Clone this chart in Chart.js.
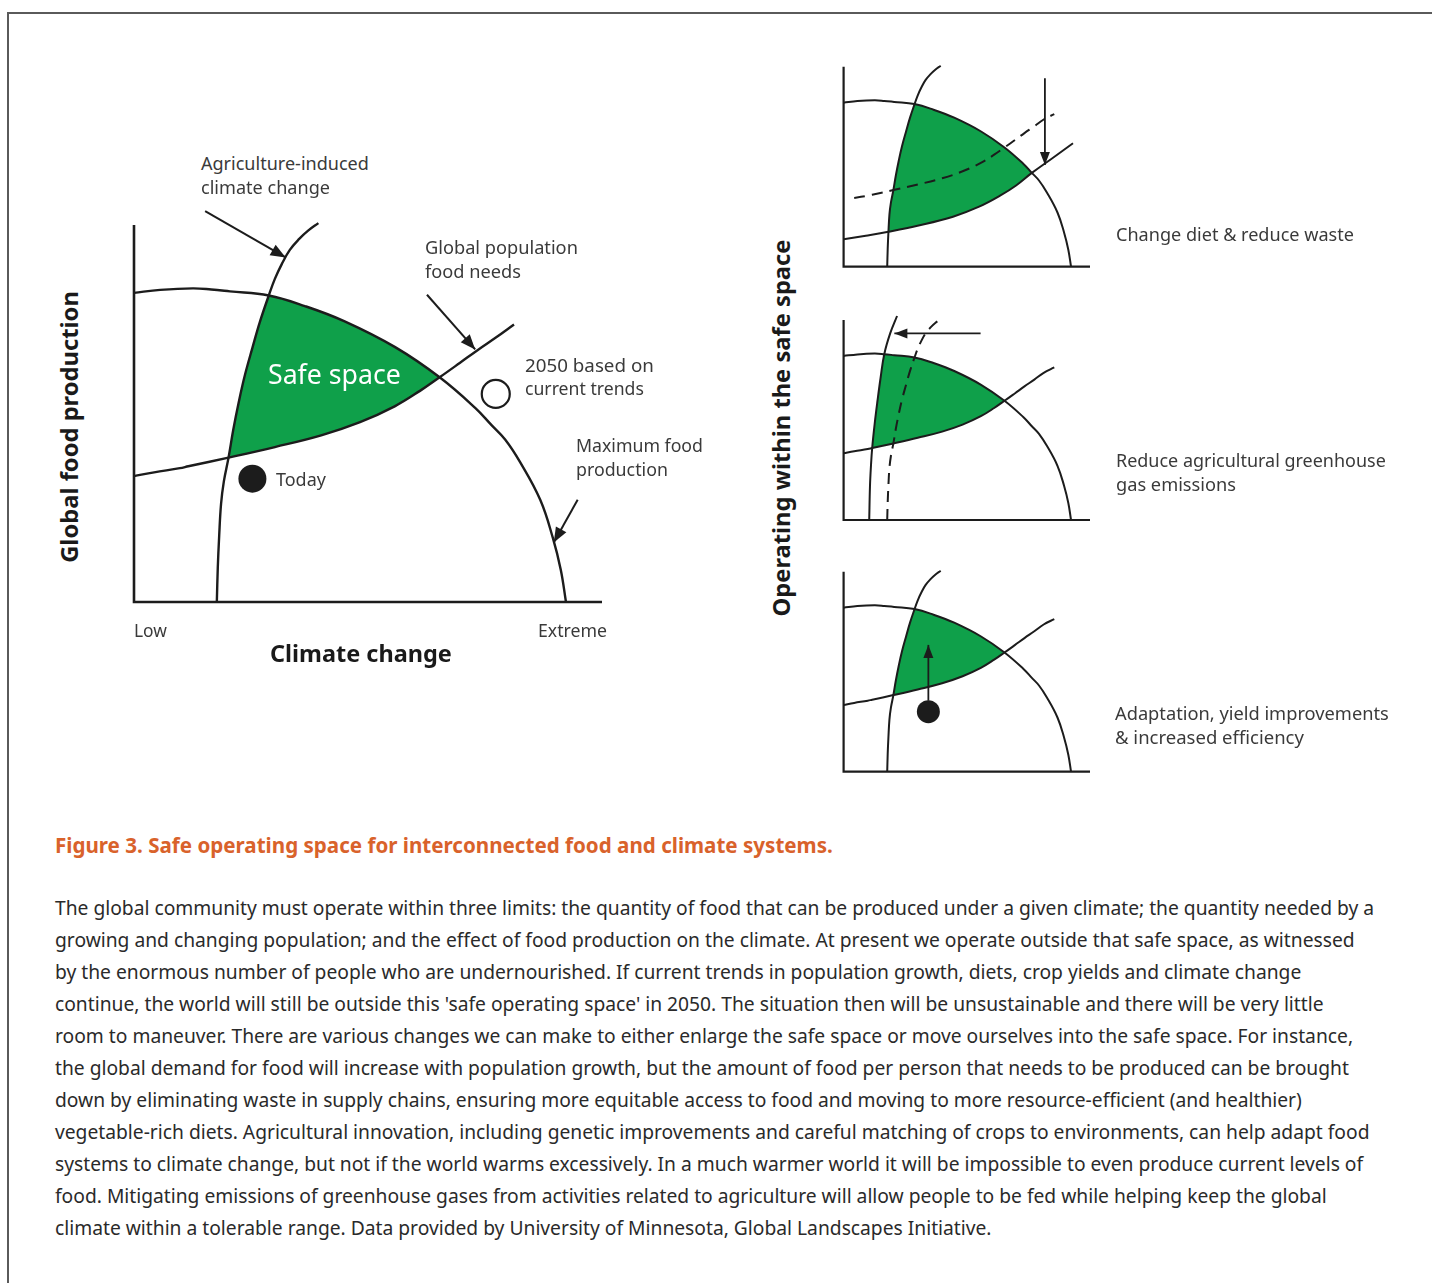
<!DOCTYPE html>
<html>
<head>
<meta charset="utf-8">
<script src="https://cdn.jsdelivr.net/npm/chart.js@4.4.1/dist/chart.umd.min.js"></script>
<style>
  body { margin: 0; background: #fff; font-family: "Noto Sans", sans-serif; }
  #page { position: relative; width: 1432px; height: 1283px; overflow: hidden; }
  #frame { position: absolute; left: 7px; top: 12px; width: 1500px; height: 1400px;
           border-left: 2px solid #5a5a5a; border-top: 2px solid #5a5a5a; }
  canvas { position: absolute; }
  .t { position: absolute; white-space: nowrap; line-height: 1; color: #3a3a3a; }
</style>
</head>
<body>
<div id="page">
  <div id="frame"></div>
  <canvas id="main" width="540" height="440" style="left:100px;top:190px"></canvas>
  <canvas id="diet" width="300" height="250" style="left:820px;top:40px"></canvas>
  <canvas id="emis" width="300" height="250" style="left:820px;top:295px"></canvas>
  <canvas id="adapt" width="300" height="250" style="left:820px;top:545px"></canvas>
</div>
<script>
// conceptual units: x = climate change 0..100, y = food production 0..100

const agriClimate = [[17.7,0],[17.9,9],[18.2,17.5],[18.6,26],[19.2,32],[20.2,38.3],[21.2,45.6],
  [22.4,53.1],[23.7,60.2],[25.3,67.4],[26.9,74.3],[28.8,81.3],[30.1,85.7],[31.6,89.7],
  [33.3,93.4],[35.3,96.3],[37.2,98.5],[39.4,100.5]];

const maxFood = [[0,82.0],[5.6,82.8],[12.6,83.2],[16.5,82.9],[20.5,82.4],[28.8,81.3],[36.5,78.5],
  [44.9,74.5],[55.8,67.6],[65.3,59.6],[72.9,51.5],[76.4,46.9],[79.3,43.1],[82.5,37.1],
  [86.8,27.1],[89.5,17.0],[91.2,8.5],[92.3,0]];

const popNeeds = [[0,33.4],[4.3,34.4],[9.8,35.5],[11.6,36.0],[20.2,38.3],[30.1,41.1],[40.0,44.2],
  [48.3,47.7],[55.7,51.9],[61.1,56.0],[65.3,59.6],[69.6,63.4],[73.4,66.8],[77.4,70.2],
  [81.2,73.6],[85.5,76.3]];

// panel 1: food needs lowered by diet change / less waste
const popNeedsLowered = [[0,13.7],[9,15.5],[18.2,17.5],[30,20.5],[44.4,25],[55,30],[63.5,35.5],
  [70,40.6],[76.4,46.9],[85,54.5],[93.1,61.7]];

// panel 2: agriculture-induced climate change reduced
const agriClimateLowered = [[10.4,0],[10.7,16.7],[11.1,27],[11.6,36.0],[12.6,48],[13.8,60],
  [15.0,71],[16.5,82.9],[18.9,93.3],[21.7,102]];

const todayPoint = [25.3, 32.7];
const trend2050Point = [77.3, 55.2];
const adaptPoint = [34.4, 30];

const arrowAgri = [[15.2,103.7],[32.4,91.4]];
const arrowPop = [[62.6,81.5],[72.9,67.0]];
const arrowMax = [[94.8,27.1],[89.7,15.8]];
const arrowDiet = [[81.7,94.2],[81.7,50.9]];
const arrowEmis = [[55.6,93.3],[20.6,93.3]];
const arrowAdapt = [[34.4,35.5],[34.4,63.4]];

const INK = '#1c1c1c';
const GREEN = '#0fa04a';

const xy = a => a.map(([x, y]) => ({x, y}));

// piece of a curve between two of its own points
function part(arr, x0, x1) {
  const i = arr.findIndex(p => p[0] === x0);
  const j = arr.findIndex(p => p[0] === x1);
  return i <= j ? arr.slice(i, j + 1) : arr.slice(j, i + 1).reverse();
}

// corners are kept twice so the spline stays sharp there
function region(left, top, bottom) {
  return [...left, ...top, ...bottom];
}

function line(points, width, dash) {
  return { data: xy(points), borderColor: INK, borderWidth: width, borderDash: dash || [],
           pointRadius: 0, fill: false, clip: false, order: 1 };
}

function straight(points, width) {
  return Object.assign(line(points, width), { tension: 0 });
}

function arrow(points, width, head) {
  return Object.assign(straight(points, width), { arrowHead: head });
}

function area(points) {
  return { data: xy(points), borderWidth: 0, backgroundColor: GREEN, pointRadius: 0,
           fill: 'shape', clip: false, order: 5 };
}

function dot(p, r, fillColor, border) {
  return { data: xy([p]), showLine: false, pointRadius: r, pointBackgroundColor: fillColor,
           pointBorderColor: INK, pointBorderWidth: border, clip: false, order: 0 };
}

const arrowHeads = {
  id: 'arrowHeads',
  afterDatasetsDraw(chart) {
    const ctx = chart.ctx;
    chart.data.datasets.forEach((ds, i) => {
      if (!ds.arrowHead) return;
      const pts = chart.getDatasetMeta(i).data;
      const a = pts[pts.length - 2], b = pts[pts.length - 1];
      const ang = Math.atan2(b.y - a.y, b.x - a.x);
      const [len, half] = ds.arrowHead;
      const c = Math.cos(ang), s = Math.sin(ang);
      ctx.save();
      ctx.fillStyle = INK;
      ctx.beginPath();
      ctx.moveTo(b.x, b.y);
      ctx.lineTo(b.x - len * c + half * s, b.y - len * s - half * c);
      ctx.lineTo(b.x - len * c - half * s, b.y - len * s + half * c);
      ctx.closePath();
      ctx.fill();
      ctx.restore();
    });
  }
};

function diagram(id, padding, datasets) {
  return new Chart(document.getElementById(id), {
    type: 'line',
    data: { datasets },
    options: {
      responsive: false,
      animation: false,
      events: [],
      layout: { padding },
      elements: { line: { tension: 0.4, capBezierPoints: false } },
      plugins: { legend: { display: false }, tooltip: { enabled: false } },
      scales: {
        x: { type: 'linear', display: false, min: 0, max: 100 },
        y: { type: 'linear', display: false, min: 0, max: 100 }
      }
    },
    plugins: [arrowHeads]
  });
}

const axes = [[0,100],[0,0],[100,0]];

const safeMain = region(part(agriClimate, 20.2, 28.8), part(maxFood, 28.8, 65.3), part(popNeeds, 65.3, 20.2));
const safeDiet = region(part(agriClimate, 18.2, 28.8), part(maxFood, 28.8, 76.4), part(popNeedsLowered, 76.4, 18.2));
const safeEmis = region(part(agriClimateLowered, 11.6, 16.5), part(maxFood, 16.5, 65.3), part(popNeeds, 65.3, 11.6));

diagram('main', { left: 34, top: 35, right: 38, bottom: 28 }, [
  area(safeMain),
  straight(axes, 2.6),
  line(agriClimate, 2.4),
  line(maxFood, 2.4),
  line(popNeeds.slice(0, -1), 2.4),
  arrow(arrowAgri, 2, [15, 6]),
  arrow(arrowPop, 2, [15, 6]),
  arrow(arrowMax, 2, [15, 6]),
  dot(todayPoint, 14, INK, 0),
  dot(trend2050Point, 14, '#fff', 2.2)
]);

diagram('diet', { left: 23.6, top: 26.7, right: 30, bottom: 23.3 }, [
  area(safeDiet),
  straight(axes, 2.2),
  line(agriClimate, 2),
  line(maxFood, 2),
  line(popNeedsLowered, 2),
  line(popNeeds.slice(1), 2, [11, 7]),
  arrow(arrowDiet, 1.8, [13, 5])
]);

diagram('emis', { left: 23.6, top: 25, right: 30, bottom: 25 }, [
  area(safeEmis),
  straight(axes, 2.2),
  line(agriClimateLowered, 2),
  line(agriClimate, 2, [11, 7]),
  line(maxFood, 2),
  line(popNeeds, 2),
  arrow(arrowEmis, 1.8, [13, 5])
]);

diagram('adapt', { left: 23.6, top: 26.7, right: 30, bottom: 23.3 }, [
  area(safeMain),
  straight(axes, 2.2),
  line(agriClimate, 2),
  line(maxFood, 2),
  line(popNeeds, 2),
  arrow(arrowAdapt, 1.8, [13, 5]),
  dot(adaptPoint, 11.5, INK, 0)
]);

// ---- text ----
const page = document.getElementById('page');

function label(text, left, cy, width, style) {
  const el = document.createElement('div');
  el.className = 't';
  el.textContent = text;
  Object.assign(el.style, { left: left + 'px', top: cy + 'px', fontSize: '100px' }, style || {});
  page.appendChild(el);
  el.style.fontSize = (100 * width / el.offsetWidth) + 'px';
  el.style.transform = 'translateY(-50%)';
  return el;
}

function vlabel(text, cx, cy, length) {
  const el = document.createElement('div');
  el.className = 't';
  el.textContent = text;
  Object.assign(el.style, { left: cx + 'px', top: cy + 'px', fontSize: '100px', fontWeight: 'bold', color: '#1a1a1a' });
  page.appendChild(el);
  el.style.fontSize = (100 * length / el.offsetWidth) + 'px';
  el.style.transform = 'translate(-50%,-50%) rotate(-90deg)';
}

label('Agriculture-induced', 201, 163, 168);
label('climate change', 201, 187, 129);
label('Global population', 425, 247, 153);
label('food needs', 425, 271, 96);
label('2050 based on', 525, 365, 129);
label('current trends', 525, 389, 119);
label('Maximum food', 576, 446, 127);
label('production', 576, 470, 92);
label('Today', 276, 479, 50);
label('Safe space', 268, 374, 133, { color: '#fff' });
label('Low', 134, 631, 33);
label('Extreme', 538, 631, 69);
label('Climate change', 270, 654, 182, { fontWeight: 'bold', color: '#1a1a1a' });
vlabel('Global food production', 70, 427, 272);
vlabel('Operating within the safe space', 782, 428, 377);

label('Change diet & reduce waste', 1116, 234, 238);
label('Reduce agricultural greenhouse', 1116, 461, 270);
label('gas emissions', 1116, 484, 120);
label('Adaptation, yield improvements', 1115, 713, 274);
label('& increased efficiency', 1115, 737, 189);

label('Figure 3. Safe operating space for interconnected food and climate systems.', 55, 845, 778,
      { fontWeight: 'bold', color: '#d9622b' });

const bodyLines = [
  "The global community must operate within three limits: the quantity of food that can be produced under a given climate; the quantity needed by a",
  "growing and changing population; and the effect of food production on the climate. At present we operate outside that safe space, as witnessed",
  "by the enormous number of people who are undernourished. If current trends in population growth, diets, crop yields and climate change",
  "continue, the world will still be outside this 'safe operating space' in 2050. The situation then will be unsustainable and there will be very little",
  "room to maneuver. There are various changes we can make to either enlarge the safe space or move ourselves into the safe space. For instance,",
  "the global demand for food will increase with population growth, but the amount of food per person that needs to be produced can be brought",
  "down by eliminating waste in supply chains, ensuring more equitable access to food and moving to more resource-efficient (and healthier)",
  "vegetable-rich diets. Agricultural innovation, including genetic improvements and careful matching of crops to environments, can help adapt food",
  "systems to climate change, but not if the world warms excessively. In a much warmer world it will be impossible to even produce current levels of",
  "food. Mitigating emissions of greenhouse gases from activities related to agriculture will allow people to be fed while helping keep the global",
  "climate within a tolerable range. Data provided by University of Minnesota, Global Landscapes Initiative."
];

const first = label(bodyLines[0], 55, 908, 1320, { color: '#2a2a2a' });
const bodySize = first.style.fontSize;
bodyLines.slice(1).forEach((txt, i) => {
  const el = document.createElement('div');
  el.className = 't';
  el.textContent = txt;
  Object.assign(el.style, { left: '55px', top: (940 + 32 * i) + 'px', fontSize: bodySize,
                            color: '#2a2a2a', transform: 'translateY(-50%)' });
  page.appendChild(el);
});
</script>
</body>
</html>
